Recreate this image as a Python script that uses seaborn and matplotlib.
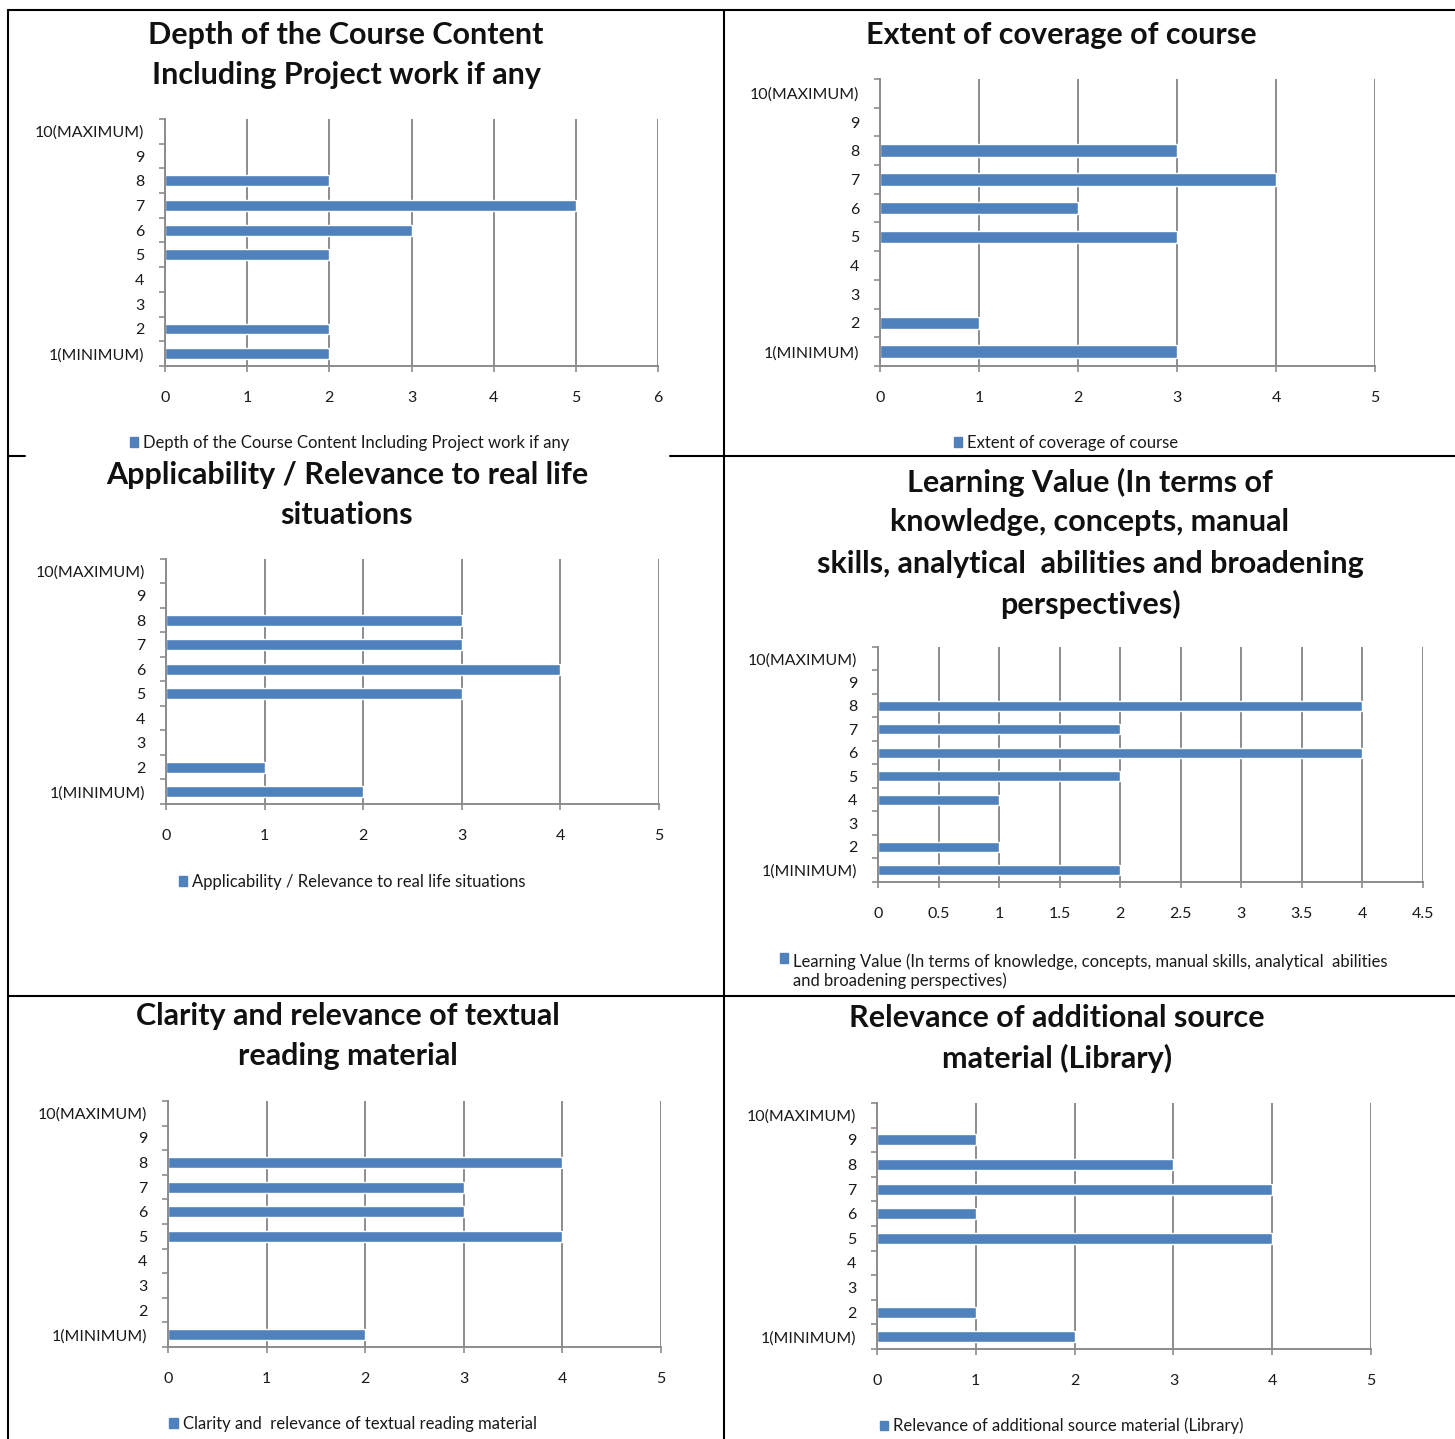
import matplotlib
matplotlib.use("Agg")
import matplotlib.pyplot as plt
from matplotlib.lines import Line2D
from matplotlib.patches import Patch
from matplotlib.ticker import MultipleLocator, FixedLocator
import seaborn as sns
import pandas as pd
import numpy as np

sns.set_theme(style="white")
plt.rcParams['font.family'] = ['Lato', 'DejaVu Sans']

# ---------------- data ----------------
ratings = ["10(MAXIMUM)", "9", "8", "7", "6", "5", "4", "3", "2", "1(MINIMUM)"]

depth_counts = [0, 0, 2, 5, 3, 2, 0, 0, 2, 2]
extent_counts = [0, 0, 3, 4, 2, 3, 0, 0, 1, 3]
applic_counts = [0, 0, 3, 3, 4, 3, 0, 0, 1, 2]
learning_counts = [0, 0, 4, 2, 4, 2, 1, 0, 1, 2]
clarity_counts = [0, 0, 4, 3, 3, 4, 0, 0, 0, 2]
library_counts = [0, 1, 3, 4, 1, 4, 0, 0, 1, 2]

titles = [
    ["Depth of the Course Content", "Including Project work if any"],
    ["Extent of coverage of course"],
    ["Applicability / Relevance to real life", "situations"],
    ["Learning Value (In terms of", "knowledge, concepts, manual",
     "skills, analytical  abilities and broadening", "perspectives)"],
    ["Clarity and relevance of textual", "reading material"],
    ["Relevance of additional source", "material (Library)"],
]
legend_labels = [
    "Depth of the Course Content Including Project work if any",
    "Extent of coverage of course",
    "Applicability / Relevance to real life situations",
    "Learning Value (In terms of knowledge, concepts, manual skills, analytical  abilities\nand broadening perspectives)",
    "Clarity and  relevance of textual reading material",
    "Relevance of additional source material (Library)",
]
x_max = [6, 5, 5, 4.5, 5, 5]
x_step = [1, 1, 1, 0.5, 1, 1]
all_counts = [depth_counts, extent_counts, applic_counts,
              learning_counts, clarity_counts, library_counts]

# ---------------- layout (pixels) ----------------
W, H = 1455, 1439
BLUE = "#4F81BD"
GRID = "#8C8C8C"
TXT = "#1a1a1a"

axes_px = [  # x0, x1, ytop, ybot
    (165, 658, 119, 366),
    (880, 1375, 79, 366),
    (166, 659, 559, 804),
    (878, 1423, 647, 882),
    (168, 661, 1101, 1347),
    (877, 1371, 1103, 1349),
]
title_px = [  # center x, list of line y
    (346, [35, 75]),
    (1061, [35]),
    (347, [475, 515]),
    (1090, [482, 522, 564, 604]),
    (348, [1016, 1056]),
    (1057, [1018, 1058]),
]
legend_px = [
    (350, 443),
    (1066, 443),
    (352, 882),
    (1084, 971),
    (353, 1424),
    (1062, 1426),
]

fig = plt.figure(figsize=(W / 100, H / 100), dpi=100)
fig.patch.set_facecolor("white")

for i in range(6):
    x0, x1, yt, yb = axes_px[i]
    ax = fig.add_axes([x0 / W, 1 - yb / H, (x1 - x0) / W, (yb - yt) / H])
    df = pd.DataFrame({"rating": ratings, "count": all_counts[i]})
    sns.barplot(data=df, x="count", y="rating", order=ratings, color=BLUE,
                saturation=1, width=0.44, ax=ax, orient="h")
    ax.set_xlim(0, x_max[i])
    ax.set_ylim(9.5, -0.5)
    ax.set_xlabel("")
    ax.set_ylabel("")
    ax.xaxis.set_major_locator(MultipleLocator(x_step[i]))
    ax.yaxis.set_minor_locator(FixedLocator(np.arange(-0.5, 10, 1)))
    ax.set_axisbelow(True)
    ax.grid(axis="x", color=GRID, linewidth=1.4)
    ax.grid(axis="y", visible=False)
    for s in ["top", "right"]:
        ax.spines[s].set_visible(False)
    for s in ["left", "bottom"]:
        ax.spines[s].set_color(GRID)
        ax.spines[s].set_linewidth(1.4)
    ax.tick_params(axis="y", which="major", length=0, pad=15,
                   labelsize=11.5, labelcolor=TXT)
    ax.tick_params(axis="y", which="minor", length=4, width=1.2,
                   color=GRID, direction="out", left=True)
    ax.tick_params(axis="x", which="major", length=4, width=1.2,
                   color=GRID, direction="out", bottom=True, pad=14,
                   labelsize=11.5, labelcolor=TXT)
    if x_step[i] == 1:
        ax.set_xticklabels([str(int(v)) for v in ax.get_xticks()])
    else:
        ax.set_xticklabels([("%g" % v) for v in ax.get_xticks()])

    # title lines
    cx, ys = title_px[i]
    for yy, line in zip(ys, titles[i]):
        fig.text(cx / W, 1 - yy / H, line, ha="center", va="center",
                 fontsize=22, fontweight="bold", color="#111111")

    # legend
    lx, ly = legend_px[i]
    handle = Patch(facecolor=BLUE, edgecolor=BLUE)
    leg = fig.legend(handles=[handle], labels=[legend_labels[i]],
                     loc="center", bbox_to_anchor=(lx / W, 1 - ly / H),
                     frameon=False, fontsize=12, handlelength=0.5,
                     handleheight=0.5, handletextpad=0.3,
                     labelcolor=TXT, borderpad=0)
    if "\n" in legend_labels[i]:
        try:
            for col in leg._legend_handle_box.get_children():
                for item in col.get_children():
                    item.align = "top"
        except Exception:
            pass

# ---------------- table borders ----------------
def hline(y, x0, x1, lw=1.5):
    fig.add_artist(Line2D([x0 / W, x1 / W], [1 - y / H, 1 - y / H],
                          color="black", linewidth=lw))

def vline(x, y0, y1, lw=1.5):
    fig.add_artist(Line2D([x / W, x / W], [1 - y0 / H, 1 - y1 / H],
                          color="black", linewidth=lw))

hline(10, 8, 1455)
hline(456, 8, 25)
hline(456, 670, 1455)
hline(996, 8, 1455)
vline(8, 10, 1439)
vline(724, 10, 1439)

fig.savefig("out.png", dpi=100, facecolor="white")
